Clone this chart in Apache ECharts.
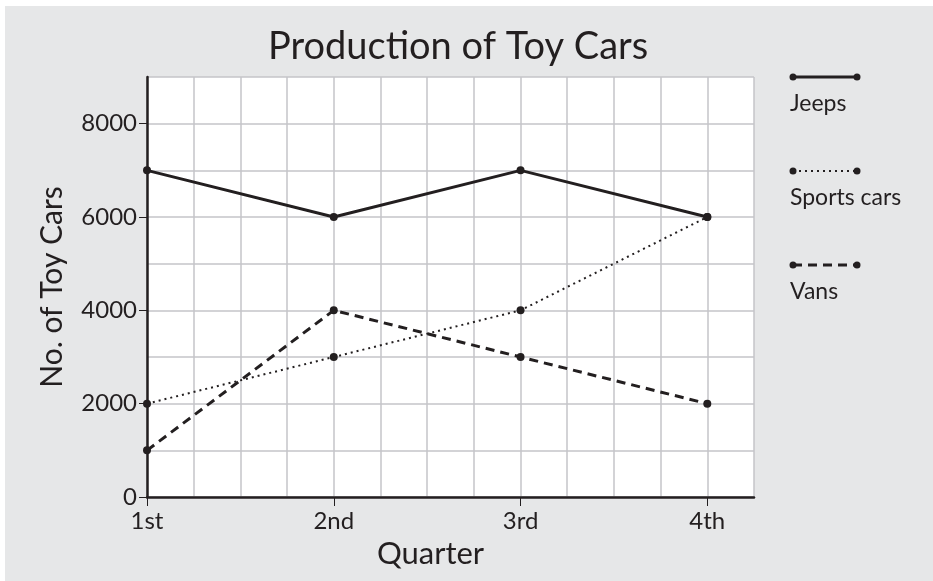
<!DOCTYPE html>
<html>
<head>
<meta charset="utf-8">
<script src="https://cdn.jsdelivr.net/npm/echarts@6/dist/echarts.min.js"></script>
<style>
  html, body { margin: 0; padding: 0; background: #fff; }
  #chart { position: absolute; left: 5px; top: 6px; width: 928px; height: 575px; }
</style>
</head>
<body>
<div id="chart"></div>
<script>
const quarters = ['1st', '2nd', '3rd', '4th']
const seriesNames = ['Jeeps', 'Sports cars', 'Vans']
const jeeps = [7000, 6000, 7000, 6000]
const sportsCars = [2000, 3000, 4000, 6000]
const vans = [1000, 4000, 3000, 2000]
const xTicks = [0, 1, 2, 3]
const yTicks = [0, 2000, 4000, 6000, 8000]

const font = 'Lato'
const ink = '#231f20'
const gridGray = '#c4c5c8'
const lineTypes = ['solid', [2, 4], [9, 6]]
const lineWidths = [3, 2, 3]
const allData = [jeeps, sportsCars, vans]

const chart = echarts.init(document.getElementById('chart'))

// legend drawn by hand: line with dots, label under it
const legendGraphics = []
seriesNames.forEach((name, i) => {
  const y = 71 + i * 94
  legendGraphics.push({
    type: 'line',
    shape: { x1: 788, y1: y, x2: 852, y2: y },
    style: { stroke: ink, lineWidth: lineWidths[i], lineDash: lineTypes[i] === 'solid' ? null : lineTypes[i] }
  })
  legendGraphics.push({ type: 'circle', shape: { cx: 788, cy: y, r: 3.5 }, style: { fill: ink } })
  legendGraphics.push({ type: 'circle', shape: { cx: 852, cy: y, r: 3.5 }, style: { fill: ink } })
  legendGraphics.push({
    type: 'text',
    x: 785,
    y: y + 15,
    style: { text: name, fill: ink, font: '23px ' + font }
  })
})

// axis 0 only draws the grid, axis 1 draws line, ticks and labels
const gridAxisX = {
  type: 'value', min: 0, max: 3.25, interval: 0.25,
  axisLine: { show: false }, axisTick: { show: false }, axisLabel: { show: false },
  splitLine: { show: true, lineStyle: { color: gridGray, width: 1.5 } }
}
const gridAxisY = {
  type: 'value', min: 0, max: 9000, interval: 1000,
  axisLine: { show: false }, axisTick: { show: false }, axisLabel: { show: false },
  splitLine: { show: true, lineStyle: { color: gridGray, width: 1.5 } }
}

const option = {
  backgroundColor: '#e6e7e8',
  animation: false,
  title: {
    text: 'Production of Toy Cars',
    left: 258,
    top: 17,
    textStyle: { fontFamily: font, fontSize: 38, fontWeight: 'normal', color: ink }
  },
  grid: { left: 142, top: 71, right: 179, bottom: 84, show: true, backgroundColor: '#fff', borderWidth: 0 },
  xAxis: [
    gridAxisX,
    {
      type: 'value',
      min: 0,
      max: 3.25,
      position: 'bottom',
      name: 'Quarter',
      nameLocation: 'middle',
      nameGap: 41,
      nameTextStyle: { fontFamily: font, fontSize: 31, color: ink, padding: [0, 40, 0, 0] },
      axisLine: { show: true, onZero: false, lineStyle: { color: ink, width: 2.5 } },
      axisTick: { show: true, length: 9, customValues: xTicks, lineStyle: { color: ink, width: 1 } },
      axisLabel: {
        customValues: xTicks,
        formatter: v => quarters[Math.round(v)],
        fontFamily: font, fontSize: 24, color: ink, margin: 12
      },
      splitLine: { show: false }
    }
  ],
  yAxis: [
    gridAxisY,
    {
      type: 'value',
      min: 0,
      max: 9000,
      position: 'left',
      name: 'No. of Toy Cars',
      nameLocation: 'middle',
      nameGap: 80,
      nameTextStyle: { fontFamily: font, fontSize: 30, color: ink },
      axisLine: { show: true, onZero: false, lineStyle: { color: ink, width: 2.5 } },
      axisTick: { show: true, length: 8, customValues: yTicks, lineStyle: { color: ink, width: 1 } },
      axisLabel: { customValues: yTicks, formatter: v => String(v), fontFamily: font, fontSize: 24, color: ink, margin: 10 },
      splitLine: { show: false }
    }
  ],
  graphic: legendGraphics,
  series: seriesNames.map((name, i) => ({
    name: name,
    type: 'line',
    xAxisIndex: 0,
    yAxisIndex: 0,
    data: allData[i].map((v, j) => [j, v]),
    symbol: 'circle',
    symbolSize: 8,
    itemStyle: { color: ink },
    lineStyle: { color: ink, width: lineWidths[i], type: lineTypes[i] },
    z: 3
  }))
}
chart.setOption(option)
</script>
</body>
</html>
